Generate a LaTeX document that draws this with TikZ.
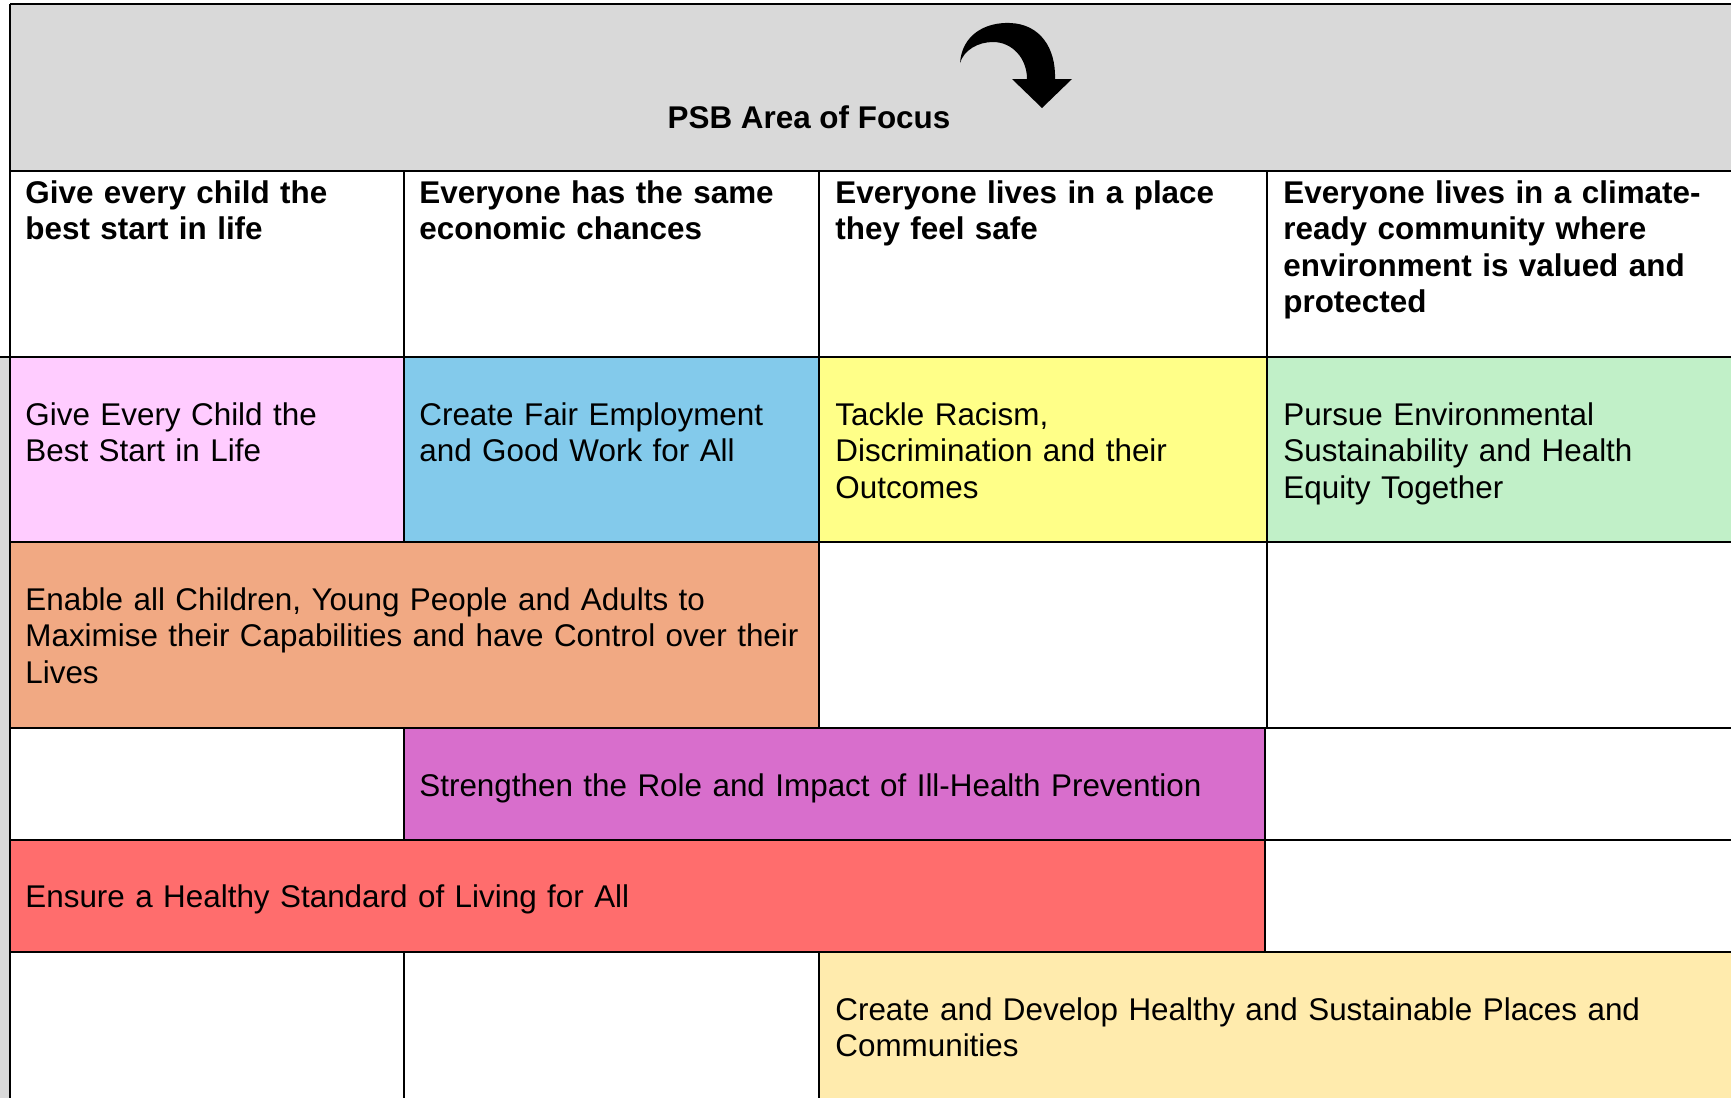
\documentclass[tikz,border=0pt]{standalone}
\usepackage{fontspec}
\setmainfont{Liberation Sans}
\definecolor{focusgrey}{HTML}{D9D9D9}
\definecolor{childpink}{HTML}{FFCCFF}
\definecolor{workblue}{HTML}{83CAEB}
\definecolor{racismyellow}{HTML}{FFFF88}
\definecolor{envgreen}{HTML}{C1F0C8}
\definecolor{enableorange}{HTML}{F1A983}
\definecolor{preventpurple}{HTML}{D86ECC}
\definecolor{livingred}{HTML}{FF6D6D}
\definecolor{placesyellow}{HTML}{FFEBAD}

\begin{document}
\begin{tikzpicture}[x=0.5pt, y=-0.5pt,
    celltext/.style={inner sep=0pt, anchor=base west, align=left, text width=440pt,
      font=\fontsize{15.7pt}{18.25pt}\selectfont},
    headtext/.style={celltext, font=\fontsize{15.7pt}{18.25pt}\selectfont\bfseries},
    titletext/.style={inner sep=0pt, anchor=base, font=\fontsize{15.7pt}{18.25pt}\selectfont\bfseries},
    rule/.style={line width=1.2pt, black}]
  \useasboundingbox (0,0) rectangle (1731,1098);
  \fill[white] (0,0) rectangle (1731,1098);
  \fill[focusgrey] (10,4) rectangle (1731,171);
  \fill[focusgrey] (0,357) rectangle (10,1098);
  \fill[childpink] (10,357) rectangle (404,542);
  \fill[workblue] (404,357) rectangle (819,542);
  \fill[racismyellow] (819,357) rectangle (1267,542);
  \fill[envgreen] (1267,357) rectangle (1731,542);
  \fill[enableorange] (10,542) rectangle (819,728);
  \fill[preventpurple] (404,728) rectangle (1265,840);
  \fill[livingred] (10,840) rectangle (1265,952);
  \fill[placesyellow] (819,952) rectangle (1731,1098);
  \draw[rule] (10,4) -- (1731,4);
  \draw[rule] (10,4) -- (10,1098);
  \draw[rule] (10,171) -- (1731,171);
  \draw[rule] (0,357) -- (1731,357);
  \foreach \y in {542,728,840,952}
    \draw[rule] (10,\y) -- (1731,\y);
  \draw[rule] (404,171) -- (404,542) (404,728) -- (404,840) (404,952) -- (404,1098);
  \draw[rule] (819,171) -- (819,728) (819,952) -- (819,1098);
  \draw[rule] (1267,171) -- (1267,728);
  \draw[rule] (1265,728) -- (1265,952);
  \fill (960,63) .. controls (962,35) and (985,22) .. (1010,23)
    .. controls (1040,24) and (1056,48) .. (1055,79) -- (1072,79) -- (1042,108)
    -- (1012,79) -- (1027,79) .. controls (1027,58) and (1012,42) .. (993,42)
    .. controls (978,42) and (964,50) .. (960,63) -- cycle;
  \node[titletext] (focus) at (809,128) {PSB Area of Focus};
  \node[headtext] (aimchild) at (25,203) {Give every child the\\best start in life};
  \node[headtext] (aimecon) at (419,203) {Everyone has the same\\economic chances};
  \node[headtext] (aimsafe) at (835,203) {Everyone lives in a place\\they feel safe};
  \node[headtext] (aimclimate) at (1283,203) {Everyone lives in a climate-\\ready community where\\environment is valued and\\protected};
  \node[celltext] (child) at (25,425) {Give Every Child the\\Best Start in Life};
  \node[celltext] (work) at (419,425) {Create Fair Employment\\and Good Work for All};
  \node[celltext] (racism) at (835,425) {Tackle Racism,\\Discrimination and their\\Outcomes};
  \node[celltext] (env) at (1283,425) {Pursue Environmental\\Sustainability and Health\\Equity Together};
  \node[celltext] (enable) at (25,610) {Enable all Children, Young People and Adults to\\Maximise their Capabilities and have Control over their\\Lives};
  \node[celltext] (prevent) at (419,796) {Strengthen the Role and Impact of Ill-Health Prevention};
  \node[celltext] (living) at (25,907) {Ensure a Healthy Standard of Living for All};
  \node[celltext] (places) at (835,1020) {Create and Develop Healthy and Sustainable Places and\\Communities};
\end{tikzpicture}
\end{document}
